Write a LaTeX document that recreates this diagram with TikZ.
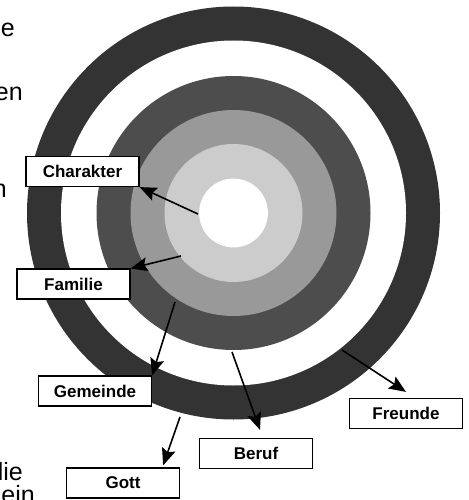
\documentclass[tikz,border=0pt]{standalone}
\usepackage{fontspec}
\setmainfont{Liberation Sans}
\usetikzlibrary{arrows.meta}
\definecolor{ringA}{HTML}{333333}
\definecolor{ringB}{HTML}{4D4D4D}
\definecolor{ringC}{HTML}{999999}
\definecolor{ringD}{HTML}{CCCCCC}
\begin{document}
\begin{tikzpicture}[x=1pt,y=-1pt,
	ringlabel/.style={draw=black,fill=white,line width=1.2pt,minimum width=113pt,minimum height=30pt,inner sep=0pt,font=\fontsize{17}{20}\selectfont\bfseries},
	pointer/.style={-{Stealth[length=17pt,width=14pt,inset=3pt]},line width=1.6pt},
	restword/.style={anchor=base east,inner sep=0pt,font=\fontsize{25}{30}\selectfont}]
	\useasboundingbox (0,0) rectangle (468,500);
	\clip (0,0) rectangle (468,500);

	% Ringe
	\coordinate (mitte) at (233.5,213);
	\fill[ringA] (mitte) circle(206.5);
	\fill[white] (mitte) circle(172.5);
	\fill[ringB] (mitte) circle(137);
	\fill[ringC] (mitte) circle(103);
	\fill[ringD] (mitte) circle(69);
	\fill[white] (mitte) circle(34.4);

	% Textreste am linken Rand
	\node[restword] (w1) at (15,37) {e};
	\node[restword] (w2) at (23,101) {en};
	\node[restword] (w3) at (7,197) {n};
	\node[restword] (w4) at (23,480) {lie};
	\node[restword] (w5) at (35,503) {ein};

	% Beschriftungen
	\node[ringlabel] (charakter) at (82.5,171.5) {Charakter};
	\node[ringlabel] (familie) at (73.5,284) {Familie};
	\node[ringlabel] (gemeinde) at (95,391) {Gemeinde};
	\node[ringlabel] (gott) at (123,483) {Gott};
	\node[ringlabel] (beruf) at (256,453.5) {Beruf};
	\node[ringlabel] (freunde) at (406,413.5) {Freunde};

	% Pfeile
	\coordinate (p1) at (198,214);
	\coordinate (p2) at (181,256);
	\coordinate (p3) at (175,302);
	\coordinate (p4) at (180,417);
	\coordinate (p5) at (232,352);
	\coordinate (p6) at (342,350);
	\draw[pointer] (p1) -- (charakter.south east);
	\draw[pointer] (p2) -- (familie.north east);
	\draw[pointer] (p3) -- (gemeinde.north east);
	\draw[pointer] (p4) -- ([xshift=-17pt,yshift=2pt]gott.north east);
	\draw[pointer] (p5) -- ([xshift=4pt,yshift=8pt]beruf.north);
	\draw[pointer] (p6) -- ([yshift=6pt]freunde.north);
\end{tikzpicture}
\end{document}
